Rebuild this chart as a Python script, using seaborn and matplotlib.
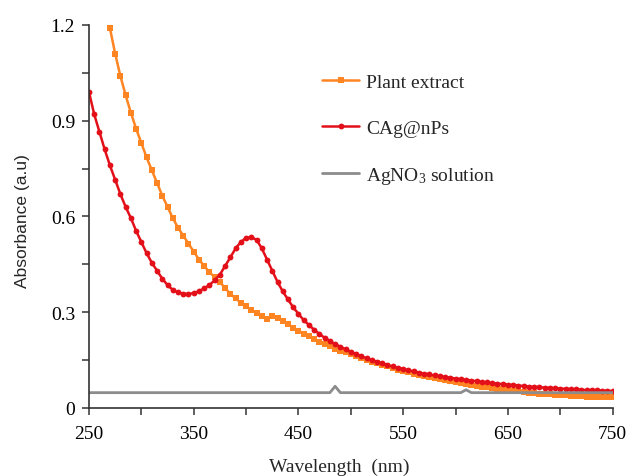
import numpy as np
import pandas as pd
import matplotlib
matplotlib.use("Agg")
import matplotlib.pyplot as plt
import seaborn as sns

# ---- data ----
wl_red = list(range(250, 755, 5))
abs_red = [0.99, 0.92, 0.865, 0.81, 0.76, 0.715, 0.67, 0.63, 0.595, 0.555,
           0.52, 0.485, 0.455, 0.43, 0.405, 0.385, 0.37, 0.362, 0.358, 0.357,
           0.36, 0.366, 0.375, 0.385, 0.40, 0.418, 0.445, 0.472, 0.50, 0.52,
           0.533, 0.535, 0.527, 0.50, 0.465, 0.43, 0.395, 0.365, 0.34, 0.315,
           0.295, 0.275, 0.26, 0.245, 0.232, 0.22, 0.21, 0.20, 0.192, 0.184,
           0.176, 0.169, 0.162, 0.156, 0.15, 0.145, 0.14, 0.135, 0.13, 0.126,
           0.122, 0.118, 0.115, 0.111, 0.108, 0.105, 0.102, 0.10, 0.097, 0.095,
           0.092, 0.09, 0.088, 0.086, 0.084, 0.082, 0.08, 0.078, 0.076, 0.075,
           0.073, 0.072, 0.07, 0.069, 0.067, 0.066, 0.065, 0.064, 0.063, 0.062,
           0.061, 0.06, 0.059, 0.058, 0.057, 0.056, 0.056, 0.055, 0.054, 0.054,
           0.053]

wl_plant = list(range(270, 755, 5))
abs_plant = [1.19, 1.11, 1.04, 0.98, 0.925, 0.875, 0.83, 0.785, 0.745, 0.705,
             0.665, 0.63, 0.595, 0.565, 0.54, 0.515, 0.49, 0.465, 0.445, 0.425,
             0.41, 0.395, 0.375, 0.358, 0.343, 0.33, 0.318, 0.307, 0.297, 0.288,
             0.28, 0.287, 0.282, 0.272, 0.262, 0.252, 0.242, 0.233, 0.224, 0.215,
             0.207, 0.20, 0.193, 0.186, 0.18, 0.174, 0.168, 0.162, 0.156, 0.15,
             0.145, 0.14, 0.135, 0.13, 0.125, 0.12, 0.116, 0.112, 0.108, 0.104,
             0.10, 0.097, 0.094, 0.09, 0.087, 0.084, 0.081, 0.078, 0.075, 0.072,
             0.07, 0.067, 0.065, 0.062, 0.06, 0.058, 0.056, 0.054, 0.052, 0.05,
             0.048, 0.047, 0.045, 0.044, 0.043, 0.042, 0.041, 0.04, 0.039, 0.038,
             0.036, 0.035, 0.035, 0.034, 0.034, 0.034, 0.034]

wl_agno3 = [250, 480, 485, 490, 605, 610, 615, 750]
abs_agno3 = [0.048, 0.048, 0.068, 0.048, 0.048, 0.057, 0.048, 0.048]

labels = ["Plant extract", "CAg@nPs", "AgNO$_3$ solution"]
x_ticks = [250, 350, 450, 550, 650, 750]
y_ticks = [0, 0.3, 0.6, 0.9, 1.2]
y_tick_labels = ["0", "0.3", "0.6", "0.9", "1.2"]

# ---- style ----
sns.set_style("ticks")
plt.rcParams["font.family"] = ["Liberation Serif", "DejaVu Serif"]
plt.rcParams["mathtext.fontset"] = "custom"
plt.rcParams["mathtext.rm"] = "Liberation Serif"
plt.rcParams["mathtext.default"] = "rm"

c_orange = "#FF8422"
c_red = "#E3101A"
c_gray = "#8C8C8C"

fig = plt.figure(figsize=(6.31, 4.77), dpi=100)
ax = fig.add_axes([0.141, 0.1426, 0.830, 0.803])

df_plant = pd.DataFrame({"wl": wl_plant, "abs": abs_plant})
df_red = pd.DataFrame({"wl": wl_red, "abs": abs_red})
df_ag = pd.DataFrame({"wl": wl_agno3, "abs": abs_agno3})

sns.lineplot(data=df_plant, x="wl", y="abs", ax=ax, color=c_orange, lw=1.8,
             marker="s", markersize=5, markeredgewidth=0, label=labels[0])
sns.lineplot(data=df_red, x="wl", y="abs", ax=ax, color=c_red, lw=1.8,
             marker="o", markersize=4.2, markeredgewidth=0, label=labels[1])
sns.lineplot(data=df_ag, x="wl", y="abs", ax=ax, color=c_gray, lw=2.0,
             label=labels[2])

ax.set_xlim(250, 750)
ax.set_ylim(0, 1.2)
ax.set_xticks(x_ticks)
ax.set_yticks(y_ticks)
ax.set_yticklabels(y_tick_labels)
ax.set_xticks([300, 400, 500, 600, 700], minor=True)
ax.set_yticks([0.15, 0.45, 0.75, 1.05], minor=True)
ax.tick_params(axis="both", which="both", direction="out", colors="#333333",
               width=1.1, labelcolor="black", labelsize=14)
ax.tick_params(which="major", length=5)
ax.tick_params(which="minor", length=5)
ax.tick_params(axis="x", pad=7)
ax.tick_params(axis="y", pad=5)
for s in ["top", "right"]:
    ax.spines[s].set_visible(False)
for s in ["left", "bottom"]:
    ax.spines[s].set_color("#333333")
    ax.spines[s].set_linewidth(1.2)

ax.set_xlabel("Wavelength  (nm)", fontsize=14)
ax.xaxis.set_label_coords(0.477, -0.13)
ax.set_ylabel("Absorbance (a.u)", fontsize=12.5,
              family=["Liberation Sans", "DejaVu Sans"])
ax.yaxis.set_label_coords(-0.113, 0.49)

leg = ax.legend(loc="upper left", bbox_to_anchor=(0.445, 0.874), frameon=False,
                fontsize=14, labelspacing=1.45, handlelength=1.9,
                handletextpad=0.35, borderpad=0, borderaxespad=0, numpoints=1)

fig.savefig("out.png", dpi=100)
